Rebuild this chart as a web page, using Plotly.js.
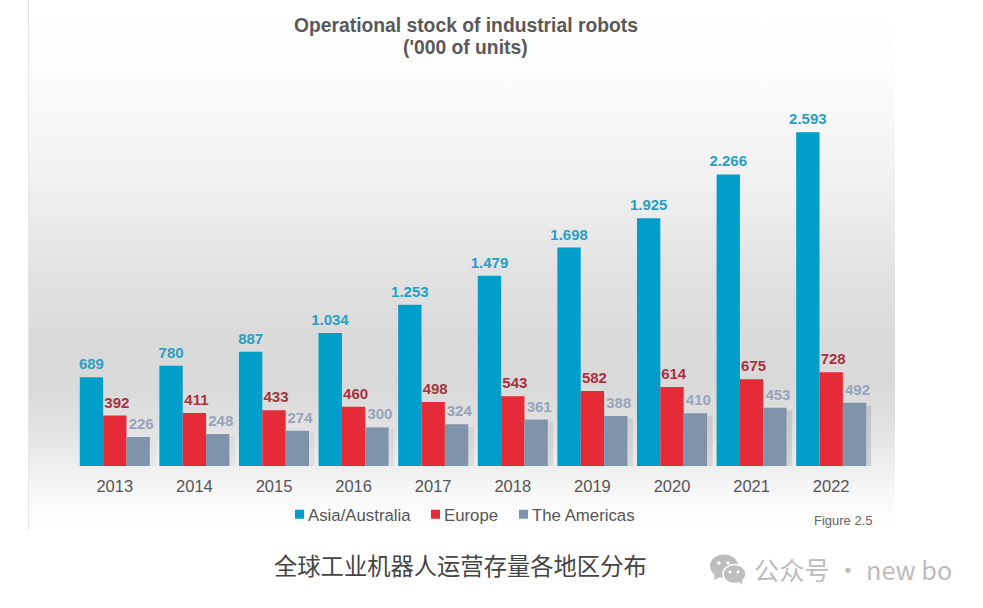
<!DOCTYPE html>
<html><head><meta charset="utf-8">
<script src="https://cdn.plot.ly/plotly-3.0.1.min.js"></script>
<style>
html,body{margin:0;padding:0;background:#fff;width:983px;height:608px;overflow:hidden}
#bg{position:absolute;left:28px;top:0;width:867px;height:530px;border-left:1px solid #e6e6e6;box-sizing:border-box;
background:linear-gradient(to bottom,#fff 0px,#fdfdfd 60px,#f6f6f6 130px,#eeeeee 200px,#e2e2e2 270px,#dadada 340px,#d9d9d9 385px,#e2e2e2 430px,#eeeeee 465px,#f8f8f8 495px,#fff 530px)}
#chart{position:absolute;left:0;top:0;width:983px;height:608px}
#wx{position:absolute;left:710px;top:554px}
</style></head><body>
<div id="bg"></div>
<div id="chart"></div>
<svg id="wx" width="38" height="32" viewBox="0 0 38 32">
<ellipse cx="14" cy="12" rx="14" ry="11.5" fill="#bdbdbd"/><path d="M5 19 L4 26 L12 22 Z" fill="#bdbdbd"/>
<ellipse cx="24.5" cy="20" rx="11.5" ry="9.5" fill="#bdbdbd" stroke="#fff" stroke-width="1.5"/><path d="M29 27 L32 31 L32 25 Z" fill="#bdbdbd"/>
<circle cx="9" cy="9" r="1.8" fill="#fff"/><circle cx="18" cy="9" r="1.8" fill="#fff"/>
<circle cx="20" cy="18" r="1.5" fill="#fff"/><circle cx="28" cy="18" r="1.5" fill="#fff"/>
</svg>
<script>
const years = ['2013','2014','2015','2016','2017','2018','2019','2020','2021','2022'];
const asia = [689,780,887,1034,1253,1479,1698,1925,2266,2593];
const europe = [392,411,433,460,498,543,582,614,675,728];
const americas = [226,248,274,300,324,361,388,410,453,492];
const asiaLabels = ['689','780','887','1.034','1.253','1.479','1.698','1.925','2.266','2.593'];
const FONT = '"Liberation Sans", Arial, sans-serif';
function series(name, y, text, color, textColor){
  return {type:'bar', name, x:years, y, text, textposition:'outside', constraintext:'none', cliponaxis:false,
    marker:{color}, textfont:{family:FONT,size:15,weight:'bold',color:textColor}, hoverinfo:'x+y'};
}
const data = [
  series('Asia/Australia', asia, asiaLabels, '#009ec9', '#2a9fc4'),
  series('Europe', europe, europe.map(String), '#e52a38', '#a8323f'),
  series('The Americas', americas, americas.map(String), '#7f93ab', '#98a4ba')
];
const px = (x,y)=>({xref:'paper',yref:'paper',x:(x-75.2)/795.6,y:(466-y)/386.4,showarrow:false});
const layout = {
  width:983, height:608, autosize:false, paper_bgcolor:'rgba(0,0,0,0)', plot_bgcolor:'rgba(0,0,0,0)',
  margin:{l:75.2,r:112.2,t:79.6,b:142,pad:0},
  barmode:'group', bargap:0.12, bargroupgap:0, showlegend:true,
  font:{family:FONT,color:'#555'},
  title:{text:"Operational stock of industrial robots", x:0.474, xanchor:'center', y:0.9695, yanchor:'top',
    font:{family:FONT,size:19.3,weight:'bold',color:'#595959'}},
  xaxis:{type:'category', range:[-0.5,9.5], tickfont:{size:16.5,color:'#555',family:FONT}, showline:false, ticks:'', showgrid:false, zeroline:false, ticklabelstandoff:8},
  yaxis:{range:[0,3000], visible:false, showgrid:false, zeroline:false},
  legend:{orientation:'h', x:0.25, xanchor:'left', y:-0.125, yanchor:'middle', font:{size:16.8,color:'#555',family:FONT}, bgcolor:'rgba(0,0,0,0)', itemclick:false, itemdoubleclick:false},
  shapes: years.map((_,i)=>({type:'rect',layer:'below',xref:'x',yref:'y',x0:i+0.44,x1:i+0.51,y0:0,y1:americas[i]*0.95,fillcolor:'rgba(110,110,110,'+(0.05+0.02*i)+')',line:{width:0}})),
  annotations:[
    Object.assign(px(466,47),{xanchor:'center',yanchor:'middle',text:"('000 of units)",font:{family:FONT,size:19.3,weight:'bold',color:'#595959'}}),
    Object.assign(px(875,521),{xanchor:'right',yanchor:'middle',text:'Figure 2.5',font:{size:13,color:'#666',family:FONT}}),
    Object.assign(px(461,565),{xanchor:'center',yanchor:'middle',text:'全球工业机器人运营存量各地区分布',font:{size:23.3,color:'#444',family:'"Noto Sans CJK SC"'}}),
    Object.assign(px(752,569),{xanchor:'left',yanchor:'middle',text:'公众号 · new bo',font:{size:25.2,color:'#bcbcbc',family:'"Noto Sans CJK SC"'}})
  ]
};
const legendTextLeft = [308,444,532];
const labelNudge = [[0,-2],[2,-2],[3,-2]];
Plotly.newPlot('chart', data, layout, {displayModeBar:false}).then(()=>{
  // nudge bar labels to sit as in the source picture
  document.querySelectorAll('#chart .barlayer .trace').forEach((tr,i)=>{
    tr.querySelectorAll('.bartext').forEach(t=>{
      const [dx,dy]=labelNudge[i];
      t.setAttribute('transform','translate('+dx+','+dy+') '+(t.getAttribute('transform')||''));
    });
  });
  // tighten the legend: small squares close to the text
  document.querySelectorAll('#chart .legend .traces').forEach((tr,i)=>{
    const txt=tr.querySelector('.legendtext');
    const dx=legendTextLeft[i]-txt.getBoundingClientRect().left;
    const m=/translate\(([-\d.]+),\s*([-\d.]+)\)/.exec(tr.getAttribute('transform'));
    tr.setAttribute('transform','translate('+(parseFloat(m[1])+dx)+','+m[2]+')');
    const p=tr.querySelector('.legendpoints path');
    p.setAttribute('d','M4.5,4.5H-4.5V-4.5H4.5Z');
    p.setAttribute('transform','translate(31.5,0)');
  });
});
</script>
</body></html>
